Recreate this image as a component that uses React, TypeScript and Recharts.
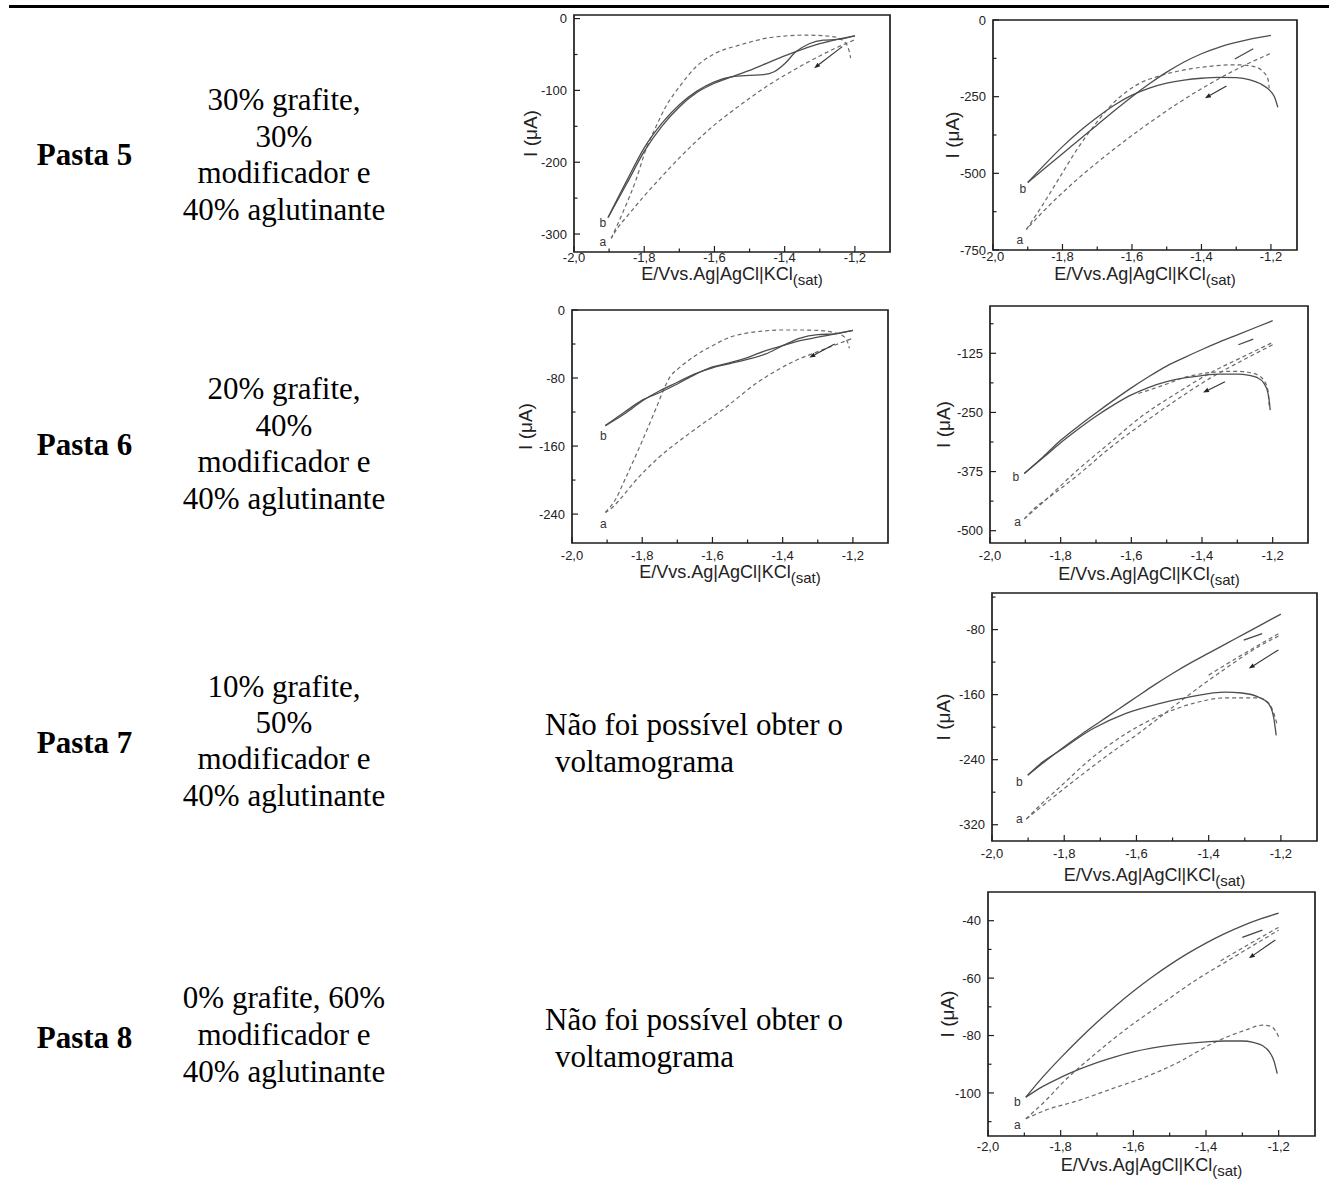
import React from 'react';
import { LineChart, Line, XAxis, YAxis, ReferenceArea, ReferenceDot, ReferenceLine } from 'recharts';

type P = [number, number];

// ---------------- table text ----------------
const pastaNames = ['Pasta 5', 'Pasta 6', 'Pasta 7', 'Pasta 8'];
const compositionLines: string[][] = [
  ['30% grafite,', '30%', 'modificador e', '40% aglutinante'],
  ['20% grafite,', '40%', 'modificador e', '40% aglutinante'],
  ['10% grafite,', '50%', 'modificador e', '40% aglutinante'],
  ['0% grafite, 60%', 'modificador e', '40% aglutinante'],
];
const noVoltLines = ['Não foi possível obter o', 'voltamograma'];

// layout of the table text (baselines, page px)
const pastaBaselines = [165, 455, 753, 1048];
const compositionBaselines = [
  [110, 147, 183, 220],
  [399, 436, 472, 509],
  [697, 733, 769, 806],
  [1008, 1045, 1082],
];
const noVoltBaselines = [
  [735, 772],
  [1030, 1067],
];

// ---------------- axis ticks ----------------
const xTickValues = [-2.0, -1.9, -1.8, -1.7, -1.6, -1.5, -1.4, -1.3, -1.2];
const xMajorTicks = [-2.0, -1.8, -1.6, -1.4, -1.2];

const p5LeftYMajor = [0, -100, -200, -300];
const p5LeftYMinor = [-50, -150, -250];
const p5RightYMajor = [0, -250, -500, -750];
const p5RightYMinor = [-125, -375, -625];
const p6LeftYMajor = [0, -80, -160, -240];
const p6LeftYMinor = [-40, -120, -200];
const p6RightYMajor = [-125, -250, -375, -500];
const p6RightYMinor = [-62.5, -187.5, -312.5, -437.5];
const p7RightYMajor = [-80, -160, -240, -320];
const p7RightYMinor = [-40, -120, -200, -280];
const p8RightYMajor = [-40, -60, -80, -100];
const p8RightYMinor = [-50, -70, -90, -110];

// ---------------- series: [E (V), I (uA)] ----------------
// Pasta 5, left
const p5L_b1: P[] = [[-1.903,-277],[-1.85,-230],[-1.8,-185],[-1.75,-150],[-1.7,-123],[-1.65,-103],[-1.6,-90],[-1.55,-81],[-1.5,-72],[-1.45,-62],[-1.4,-52],[-1.35,-43],[-1.3,-35],[-1.25,-29],[-1.2,-24]];
const p5L_b2: P[] = [[-1.903,-277],[-1.85,-226],[-1.8,-180],[-1.75,-146],[-1.7,-120],[-1.65,-101],[-1.6,-88],[-1.55,-81],[-1.5,-79],[-1.46,-78],[-1.43,-74],[-1.4,-63],[-1.37,-47],[-1.33,-35],[-1.29,-30],[-1.25,-29],[-1.2,-24]];
const p5L_a1: P[] = [[-1.203,-30],[-1.25,-40],[-1.3,-52],[-1.35,-65],[-1.4,-79],[-1.45,-94],[-1.5,-111],[-1.55,-129],[-1.6,-148],[-1.65,-170],[-1.7,-194],[-1.75,-220],[-1.8,-247],[-1.85,-276],[-1.875,-291],[-1.894,-306]];
const p5L_a2: P[] = [[-1.894,-306],[-1.861,-270],[-1.823,-224],[-1.795,-182],[-1.766,-150],[-1.738,-122],[-1.7,-95],[-1.652,-67],[-1.596,-48],[-1.529,-37],[-1.435,-26],[-1.34,-23],[-1.264,-25],[-1.231,-32],[-1.217,-44],[-1.212,-55]];

// Pasta 5, right
const p5R_b1: P[] = [[-1.9,-530],[-1.85,-483],[-1.8,-436],[-1.75,-389],[-1.7,-342],[-1.65,-295],[-1.6,-250],[-1.55,-208],[-1.5,-170],[-1.45,-137],[-1.4,-110],[-1.35,-89],[-1.3,-73],[-1.25,-60],[-1.2,-50]];
const p5R_b2: P[] = [[-1.9,-530],[-1.85,-470],[-1.8,-413],[-1.75,-362],[-1.7,-317],[-1.65,-277],[-1.6,-245],[-1.55,-222],[-1.5,-206],[-1.45,-196],[-1.4,-190],[-1.35,-187],[-1.3,-188],[-1.26,-195],[-1.23,-208],[-1.205,-228],[-1.19,-250],[-1.18,-285]];
const p5R_a1: P[] = [[-1.203,-110],[-1.28,-150],[-1.376,-208],[-1.472,-275],[-1.568,-350],[-1.664,-432],[-1.76,-522],[-1.856,-625],[-1.904,-683]];
const p5R_a2: P[] = [[-1.904,-683],[-1.856,-601],[-1.808,-513],[-1.76,-425],[-1.712,-349],[-1.664,-283],[-1.616,-234],[-1.568,-201],[-1.52,-182],[-1.472,-168],[-1.376,-151],[-1.299,-146],[-1.251,-151],[-1.223,-168],[-1.208,-195],[-1.205,-223]];

// Pasta 6, left
const p6L_b1: P[] = [[-1.905,-136],[-1.85,-122],[-1.8,-107],[-1.75,-95],[-1.7,-85],[-1.65,-75],[-1.6,-68],[-1.55,-63],[-1.5,-58],[-1.45,-52],[-1.4,-42],[-1.35,-33],[-1.3,-29],[-1.25,-28],[-1.2,-24]];
const p6L_b2: P[] = [[-1.905,-136],[-1.85,-120],[-1.8,-106],[-1.75,-97],[-1.7,-87],[-1.65,-76],[-1.6,-67],[-1.55,-62],[-1.5,-56],[-1.45,-48],[-1.4,-42],[-1.35,-36],[-1.3,-32],[-1.25,-28],[-1.2,-24]];
const p6L_a1: P[] = [[-1.205,-34],[-1.281,-46],[-1.376,-62],[-1.471,-85],[-1.567,-116],[-1.662,-144],[-1.757,-175],[-1.824,-203],[-1.862,-222],[-1.89,-234],[-1.905,-238]];
const p6L_a2: P[] = [[-1.905,-238],[-1.875,-222],[-1.85,-200],[-1.8,-154],[-1.76,-115],[-1.735,-90],[-1.72,-78],[-1.7,-70],[-1.65,-54],[-1.6,-42],[-1.55,-32],[-1.5,-27],[-1.45,-24.5],[-1.4,-23.5],[-1.35,-23.5],[-1.3,-24],[-1.26,-26],[-1.23,-30],[-1.215,-38],[-1.21,-45]];

// Pasta 6, right
const p6R_b1: P[] = [[-1.903,-379],[-1.85,-344],[-1.8,-309],[-1.75,-279],[-1.7,-251],[-1.65,-224],[-1.6,-198],[-1.55,-174],[-1.5,-152],[-1.45,-134],[-1.4,-117],[-1.35,-101],[-1.3,-86],[-1.25,-71],[-1.2,-56]];
const p6R_b2: P[] = [[-1.903,-379],[-1.85,-346],[-1.8,-314],[-1.75,-285],[-1.7,-258],[-1.65,-234],[-1.6,-213],[-1.55,-197],[-1.5,-185],[-1.45,-177],[-1.4,-172],[-1.35,-169],[-1.3,-169],[-1.27,-171],[-1.245,-176],[-1.225,-188],[-1.213,-210],[-1.209,-230],[-1.207,-245]];
const p6R_a1: P[] = [[-1.2,-107],[-1.283,-139],[-1.378,-178],[-1.473,-224],[-1.567,-273],[-1.662,-326],[-1.757,-386],[-1.832,-429],[-1.87,-450],[-1.903,-475]];
const p6R_a2: P[] = [[-1.903,-475],[-1.85,-440],[-1.757,-375],[-1.662,-315],[-1.567,-256],[-1.473,-210],[-1.378,-167],[-1.283,-132],[-1.2,-102]];
const p6R_a3: P[] = [[-1.58,-210],[-1.5,-190],[-1.45,-176],[-1.4,-168],[-1.35,-164],[-1.3,-163],[-1.27,-165],[-1.245,-170],[-1.225,-182],[-1.213,-205],[-1.21,-235]];

// Pasta 7, right
const p7R_b1: P[] = [[-1.901,-259],[-1.85,-241],[-1.8,-224],[-1.75,-208],[-1.7,-193],[-1.65,-178],[-1.6,-163],[-1.55,-148],[-1.5,-134],[-1.45,-121],[-1.4,-109],[-1.35,-97],[-1.3,-85],[-1.25,-73],[-1.2,-61]];
const p7R_b2: P[] = [[-1.901,-259],[-1.86,-243],[-1.813,-229],[-1.721,-202],[-1.629,-183],[-1.537,-171],[-1.445,-162],[-1.354,-157],[-1.308,-158],[-1.262,-163],[-1.234,-171],[-1.22,-188],[-1.213,-210]];
const p7R_a1: P[] = [[-1.905,-313],[-1.86,-293],[-1.813,-274],[-1.721,-237],[-1.629,-208],[-1.537,-186],[-1.445,-171],[-1.354,-164],[-1.262,-164],[-1.235,-170],[-1.222,-180],[-1.211,-196]];
const p7R_a2: P[] = [[-1.905,-313],[-1.813,-280],[-1.675,-233],[-1.583,-204],[-1.51,-179],[-1.445,-157],[-1.354,-128],[-1.262,-101],[-1.202,-87]];
const p7R_a3: P[] = [[-1.4,-136],[-1.3,-109],[-1.25,-96],[-1.202,-84]];

// Pasta 8, right
const p8R_b1: P[] = [[-1.896,-101.5],[-1.85,-94.6],[-1.8,-87.8],[-1.75,-81.4],[-1.7,-75.4],[-1.65,-69.8],[-1.6,-64.6],[-1.55,-59.8],[-1.5,-55.4],[-1.45,-51.4],[-1.4,-47.8],[-1.35,-44.6],[-1.3,-41.8],[-1.25,-39.4],[-1.2,-37.4]];
const p8R_b2: P[] = [[-1.896,-101.5],[-1.85,-97.8],[-1.8,-94.6],[-1.75,-91.8],[-1.7,-89.4],[-1.65,-87.4],[-1.6,-85.7],[-1.55,-84.4],[-1.5,-83.4],[-1.45,-82.7],[-1.4,-82.2],[-1.35,-81.9],[-1.3,-81.9],[-1.27,-82.4],[-1.245,-83.5],[-1.225,-85.8],[-1.212,-89.2],[-1.204,-93.3]];
const p8R_a1: P[] = [[-1.896,-109],[-1.841,-106],[-1.75,-102.6],[-1.658,-98.5],[-1.566,-94.4],[-1.474,-89.2],[-1.383,-82.8],[-1.291,-78.1],[-1.245,-76.4],[-1.222,-76.8],[-1.208,-78.5],[-1.2,-80.5]];
const p8R_a2: P[] = [[-1.896,-109],[-1.841,-102.6],[-1.795,-96.5],[-1.704,-86.3],[-1.612,-77],[-1.52,-68.8],[-1.428,-60.7],[-1.337,-53.7],[-1.245,-46.7],[-1.2,-43.3]];
const p8R_a3: P[] = [[-1.36,-54],[-1.29,-48.8],[-1.2,-42.3]];

// ---------------- styles ----------------
const FRAME = '#1e1e1e';
const SOLID = '#4d4d4d';
const DASH = '#6a6a6a';
const SANS = 'Arial, "Liberation Sans", Helvetica, sans-serif';
const SERIF = '"Times New Roman", "Liberation Serif", serif';

const PAD_L = 80, PAD_R = 12, PAD_T = 10, PAD_B = 50;

interface Spec {
  id: string;
  frame: { left: number; top: number; right: number; bottom: number };
  xDomain: [number, number];
  yDomain: [number, number];
  yMajor: number[];
  yMinor: number[];
  solid: P[][];
  dashed: P[][];
  labelB: P;
  labelA: P;
  arrows: [P, P][];
  plain: [P, P][];
  xTickDy: number;
  xTitleDy: number;
  yTitleDx: number;
}

const specs: Spec[] = [
  { id: 'p5L', frame: { left: 574, top: 15, right: 890, bottom: 252 }, xDomain: [-2.0, -1.1], yDomain: [-325, 5],
    yMajor: p5LeftYMajor, yMinor: p5LeftYMinor, solid: [p5L_b1, p5L_b2], dashed: [p5L_a1, p5L_a2],
    labelB: [-1.918, -285], labelA: [-1.918, -311], arrows: [[[-1.236, -39], [-1.316, -69]]], plain: [],
    xTickDy: 9.5, xTitleDy: 27.5, yTitleDx: 44 },
  { id: 'p5R', frame: { left: 993, top: 20, right: 1297, bottom: 250 }, xDomain: [-2.0, -1.125], yDomain: [-750, 0],
    yMajor: p5RightYMajor, yMinor: p5RightYMinor, solid: [p5R_b1, p5R_b2], dashed: [p5R_a1, p5R_a2],
    labelB: [-1.914, -552], labelA: [-1.923, -716], arrows: [[[-1.328, -215], [-1.39, -255]]], plain: [[[-1.304, -127], [-1.251, -94]]],
    xTickDy: 11, xTitleDy: 29.5, yTitleDx: 41 },
  { id: 'p6L', frame: { left: 572, top: 310, right: 888, bottom: 543 }, xDomain: [-2.0, -1.1], yDomain: [-274, 0],
    yMajor: p6LeftYMajor, yMinor: p6LeftYMinor, solid: [p6L_b1, p6L_b2], dashed: [p6L_a1, p6L_a2],
    labelB: [-1.911, -148], labelA: [-1.911, -252], arrows: [[[-1.252, -40], [-1.324, -56]]], plain: [],
    xTickDy: 17, xTitleDy: 34.5, yTitleDx: 47 },
  { id: 'p6R', frame: { left: 990, top: 306, right: 1308, bottom: 543 }, xDomain: [-2.0, -1.1], yDomain: [-526, -25],
    yMajor: p6RightYMajor, yMinor: p6RightYMinor, solid: [p6R_b1, p6R_b2], dashed: [p6R_a1, p6R_a2, p6R_a3],
    labelB: [-1.927, -386], labelA: [-1.922, -482], arrows: [[[-1.335, -185], [-1.397, -208]]], plain: [[[-1.297, -107], [-1.255, -95]]],
    xTickDy: 17, xTitleDy: 37, yTitleDx: 47 },
  { id: 'p7R', frame: { left: 992, top: 593, right: 1317, bottom: 841 }, xDomain: [-2.0, -1.1], yDomain: [-340, -35],
    yMajor: p7RightYMajor, yMinor: p7RightYMinor, solid: [p7R_b1, p7R_b2], dashed: [p7R_a1, p7R_a2, p7R_a3],
    labelB: [-1.924, -267], labelA: [-1.924, -313], arrows: [[[-1.207, -105], [-1.289, -128]]], plain: [[[-1.303, -93], [-1.252, -85]]],
    xTickDy: 17, xTitleDy: 40, yTitleDx: 49 },
  { id: 'p8R', frame: { left: 988, top: 892, right: 1315, bottom: 1136 }, xDomain: [-2.0, -1.1], yDomain: [-115, -30],
    yMajor: p8RightYMajor, yMinor: p8RightYMinor, solid: [p8R_b1, p8R_b2], dashed: [p8R_a1, p8R_a2, p8R_a3],
    labelB: [-1.919, -103], labelA: [-1.919, -111], arrows: [[[-1.209, -46.7], [-1.282, -53.1]]], plain: [[[-1.3, -45.8], [-1.245, -43.3]]],
    xTickDy: 15, xTitleDy: 34.5, yTitleDx: 41 },
];

const isIn = (v: number, arr: number[]) => arr.some((a) => Math.abs(a - v) < 1e-6);
const fmtX = (v: number) => v.toFixed(1).replace('.', ',');
const toObj = (pts: P[]) => pts.map(([e, i]) => ({ e, i }));

const ArrowShape = (p: any) => {
  const { x1, y1, x2, y2 } = p;
  if ([x1, y1, x2, y2].some((v) => typeof v !== 'number' || isNaN(v))) return <g />;
  const ang = Math.atan2(y2 - y1, x2 - x1);
  const L = 6, Wd = 2.3;
  const bx = x2 - L * Math.cos(ang), by = y2 - L * Math.sin(ang);
  const px = -Math.sin(ang) * Wd, py = Math.cos(ang) * Wd;
  return (
    <g>
      <line x1={x1} y1={y1} x2={bx} y2={by} stroke="#333" strokeWidth={1.1} />
      <polygon points={`${x2},${y2} ${bx + px},${by + py} ${bx - px},${by - py}`} fill="#222" />
    </g>
  );
};

const PlainShape = (p: any) => {
  const { x1, y1, x2, y2 } = p;
  if ([x1, y1, x2, y2].some((v) => typeof v !== 'number' || isNaN(v))) return <g />;
  return <line x1={x1} y1={y1} x2={x2} y2={y2} stroke="#444" strokeWidth={1.2} />;
};

function VoltChart({ spec }: { spec: Spec }) {
  const { frame } = spec;
  const pw = frame.right - frame.left;
  const ph = frame.bottom - frame.top;
  const W = pw + PAD_L + PAD_R;
  const H = ph + PAD_T + PAD_B;

  const XTick = (props: any) => {
    const { x, y, payload } = props;
    const v = payload.value as number;
    const major = isIn(v, xMajorTicks);
    return (
      <g>
        <line x1={x} x2={x} y1={y} y2={y - (major ? 6 : 3.5)} stroke={FRAME} strokeWidth={1.2} />
        {major && (
          <text x={x} y={y + spec.xTickDy} textAnchor="middle" fontSize={13} fontFamily={SANS} fill="#222">
            {fmtX(v)}
          </text>
        )}
      </g>
    );
  };

  const YTick = (props: any) => {
    const { x, y, payload } = props;
    const v = payload.value as number;
    const major = isIn(v, spec.yMajor);
    return (
      <g>
        <line x1={x} x2={x + (major ? 6 : 3.5)} y1={y} y2={y} stroke={FRAME} strokeWidth={1.2} />
        {major && (
          <text x={x - 7} y={y + 4.6} textAnchor="end" fontSize={13} fontFamily={SANS} fill="#222">
            {String(v)}
          </text>
        )}
      </g>
    );
  };

  const xTitle = () => (
    <text x={PAD_L + pw / 2} y={PAD_T + ph + spec.xTitleDy} textAnchor="middle" fontSize={18} fontFamily={SANS} fill="#222">
      E/Vvs.Ag|AgCl|KCl
      <tspan fontSize={15} dy={5}>(sat)</tspan>
    </text>
  );

  const yTitle = () => {
    const cx = PAD_L - spec.yTitleDx;
    const cy = PAD_T + ph / 2;
    return (
      <text x={cx} y={cy} transform={`rotate(-90, ${cx}, ${cy})`} textAnchor="middle" dominantBaseline="central"
        fontSize={19} fontFamily={SANS} fill="#222">
        I (μA)
      </text>
    );
  };

  const letter = (ch: string) => (p: any) => (
    <text x={p.cx} y={p.cy} textAnchor="middle" dominantBaseline="central" fontSize={12} fontFamily={SANS} fill="#333">
      {ch}
    </text>
  );

  return (
    <div style={{ position: 'absolute', left: frame.left - PAD_L, top: frame.top - PAD_T }}>
      <LineChart width={W} height={H} margin={{ top: PAD_T, right: PAD_R, left: 0, bottom: 0 }}>
        <XAxis
          type="number"
          dataKey="e"
          domain={spec.xDomain}
          allowDataOverflow
          ticks={xTickValues}
          interval={0}
          tick={XTick}
          tickLine={false}
          axisLine={false}
          tickSize={0}
          tickMargin={0}
          height={PAD_B}
          label={xTitle}
        />
        <YAxis
          type="number"
          dataKey="i"
          domain={spec.yDomain}
          allowDataOverflow
          ticks={[...spec.yMajor, ...spec.yMinor]}
          interval={0}
          tick={YTick}
          tickLine={false}
          axisLine={false}
          tickSize={0}
          tickMargin={0}
          width={PAD_L}
          label={yTitle}
        />
        {spec.dashed.map((d, k) => (
          <Line key={`d${k}`} data={toObj(d)} dataKey="i" type="monotone" stroke={DASH} strokeWidth={1.2}
            strokeDasharray="4 3" dot={false} activeDot={false} isAnimationActive={false} />
        ))}
        {spec.solid.map((d, k) => (
          <Line key={`s${k}`} data={toObj(d)} dataKey="i" type="monotone" stroke={SOLID} strokeWidth={1.3}
            dot={false} activeDot={false} isAnimationActive={false} />
        ))}
        {spec.arrows.map((a, k) => (
          <ReferenceLine key={`ar${k}`} segment={[{ x: a[0][0], y: a[0][1] }, { x: a[1][0], y: a[1][1] }]}
            shape={ArrowShape} ifOverflow="visible" />
        ))}
        {spec.plain.map((a, k) => (
          <ReferenceLine key={`pl${k}`} segment={[{ x: a[0][0], y: a[0][1] }, { x: a[1][0], y: a[1][1] }]}
            shape={PlainShape} ifOverflow="visible" />
        ))}
        <ReferenceDot x={spec.labelB[0]} y={spec.labelB[1]} r={0} ifOverflow="visible" shape={letter('b')} />
        <ReferenceDot x={spec.labelA[0]} y={spec.labelA[1]} r={0} ifOverflow="visible" shape={letter('a')} />
        <ReferenceArea x1={spec.xDomain[0]} x2={spec.xDomain[1]} y1={spec.yDomain[0]} y2={spec.yDomain[1]}
          fill="none" fillOpacity={0} stroke={FRAME} strokeWidth={1.7} ifOverflow="visible" />
      </LineChart>
    </div>
  );
}

export default function App() {
  return (
    <div style={{ position: 'absolute', left: 0, top: 0, width: 1336, height: 1180, background: '#fff', overflow: 'hidden' }}>
      <svg width={1336} height={1180} style={{ position: 'absolute', left: 0, top: 0 }}>
        <rect x={9} y={5} width={1320} height={3} fill="#000" />
        {pastaNames.map((name, r) => (
          <text key={name} x={84.5} y={pastaBaselines[r]} textAnchor="middle" fontSize={31} fontWeight="bold"
            fontFamily={SERIF} fill="#000">
            {name}
          </text>
        ))}
        {compositionLines.map((lines, r) =>
          lines.map((ln, k) => (
            <text key={`c${r}-${k}`} x={284} y={compositionBaselines[r][k]} textAnchor="middle" fontSize={31}
              fontFamily={SERIF} fill="#000">
              {ln}
            </text>
          ))
        )}
        {noVoltBaselines.map((bl, r) => (
          <g key={`nv${r}`}>
            <text x={545} y={bl[0]} fontSize={31} fontFamily={SERIF} fill="#000">{noVoltLines[0]}</text>
            <text x={555} y={bl[1]} fontSize={31} fontFamily={SERIF} fill="#000">{noVoltLines[1]}</text>
          </g>
        ))}
      </svg>
      {specs.map((s) => (
        <VoltChart key={s.id} spec={s} />
      ))}
    </div>
  );
}
